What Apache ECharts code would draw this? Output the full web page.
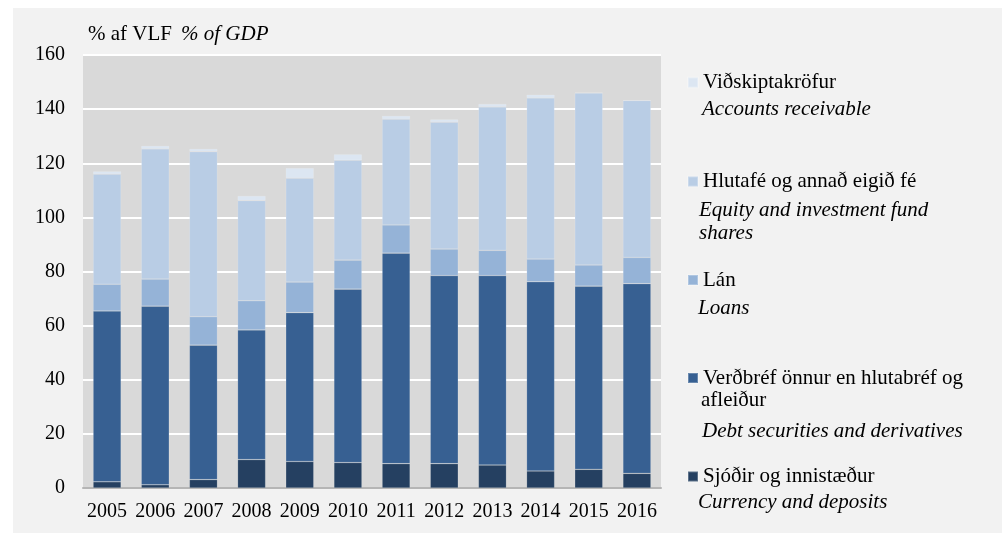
<!DOCTYPE html>
<html>
<head>
<meta charset="utf-8">
<script src="https://cdn.jsdelivr.net/npm/echarts@6/dist/echarts.min.js"></script>
<style>
  body { margin: 0; background: #fff; }
  #chart { position: absolute; left: 13px; top: 8px; width: 989px; height: 525px; background: #f2f2f2; }
</style>
</head>
<body>
<div id="chart"></div>
<script>
var years = ['2005', '2006', '2007', '2008', '2009', '2010', '2011', '2012', '2013', '2014', '2015', '2016'];
var yTicks = [0, 20, 40, 60, 80, 100, 120, 140, 160];

// % of GDP
var sjodir = [2.3, 1.2, 3.1, 10.5, 9.8, 9.4, 9.0, 9.0, 8.5, 6.3, 6.9, 5.4];
var verdbref = [63.1, 66.0, 49.7, 47.9, 55.0, 64.1, 77.8, 69.5, 70.0, 69.9, 67.7, 70.1];
var lan = [9.9, 10.0, 10.5, 10.8, 11.3, 10.7, 10.4, 9.8, 9.3, 8.4, 7.8, 9.7];
var hlutafe = [40.7, 48.1, 61.0, 37.0, 38.4, 36.9, 39.1, 46.9, 53.0, 59.5, 63.6, 58.0];
var vidskipta = [1.0, 1.1, 1.0, 1.7, 3.7, 2.2, 1.2, 1.0, 1.1, 1.2, 0, 0];

var font = '"Liberation Serif", "DejaVu Serif", serif';
var chart = echarts.init(document.getElementById('chart'));

function bar(name, data, color) {
    return {
        name: name,
        type: 'bar',
        stack: 'a',
        barWidth: 28,
        data: data,
        itemStyle: { color: color, borderColor: 'rgba(255,255,255,0.25)', borderWidth: 0.6 }
    };
}

function leg(name, top) {
    return {
        data: [name],
        left: 674,
        top: top,
        padding: 0,
        itemWidth: 10,
        itemHeight: 10,
        itemGap: 0,
        icon: 'rect',
        selectedMode: false,
        textStyle: { fontFamily: font, fontSize: 21, color: '#000' }
    };
}

function note(text, x, y, italic) {
    var st = italic === false ? 'normal' : 'italic';
    return {
        type: 'text',
        left: x,
        top: y - 10,
        style: { text: text, font: st + ' 21px ' + font, fill: '#000' }
    };
}

var option = {
    animation: false,
    textStyle: { fontFamily: font },
    title: {
        text: '{a|% af VLF}  {b|% of GDP}',
        left: 75,
        top: 16,
        padding: 0,
        textStyle: {
            fontWeight: 'normal',
            rich: {
                a: { fontFamily: font, fontSize: 21, fontWeight: 'normal', color: '#000' },
                b: { fontFamily: font, fontSize: 21, fontWeight: 'normal', fontStyle: 'italic', color: '#000' }
            }
        }
    },
    grid: {
        left: 70, top: 47, right: 341, bottom: 45,
        show: true, backgroundColor: '#d9d9d9', borderWidth: 0
    },
    legend: [
        leg('Viðskiptakröfur', 64),
        leg('Hlutafé og annað eigið fé', 163),
        leg('Lán', 261.5),
        leg('Verðbréf önnur en hlutabréf og', 359.5),
        leg('Sjóðir og innistæður', 458)
    ],
    xAxis: {
        type: 'category',
        data: years,
        axisTick: { show: false },
        axisLine: { lineStyle: { color: '#b5b5b5', width: 2 } },
        axisLabel: { fontFamily: font, fontSize: 20, color: '#000', margin: 14, interval: 0 }
    },
    yAxis: {
        type: 'value',
        min: yTicks[0],
        max: yTicks[yTicks.length - 1],
        interval: 20,
        axisLine: { show: false },
        axisTick: { show: false },
        splitLine: { lineStyle: { color: '#fff', width: 2 } },
        axisLabel: { fontFamily: font, fontSize: 20, color: '#000', margin: 18 }
    },
    graphic: [
        note('Accounts receivable', 689, 101),
        note('Equity and investment fund', 686, 202),
        note('shares', 686, 225),
        note('Loans', 685, 300),
        note('afleiður', 688, 392, false),
        note('Debt securities and derivatives', 689, 423),
        note('Currency and deposits', 685, 494)
    ],
    series: [
        bar('Sjóðir og innistæður', sjodir, '#254061'),
        bar('Verðbréf önnur en hlutabréf og', verdbref, '#376092'),
        bar('Lán', lan, '#95b3d7'),
        bar('Hlutafé og annað eigið fé', hlutafe, '#b9cde5'),
        bar('Viðskiptakröfur', vidskipta, '#dce6f2')
    ]
};
chart.setOption(option);
</script>
</body>
</html>
